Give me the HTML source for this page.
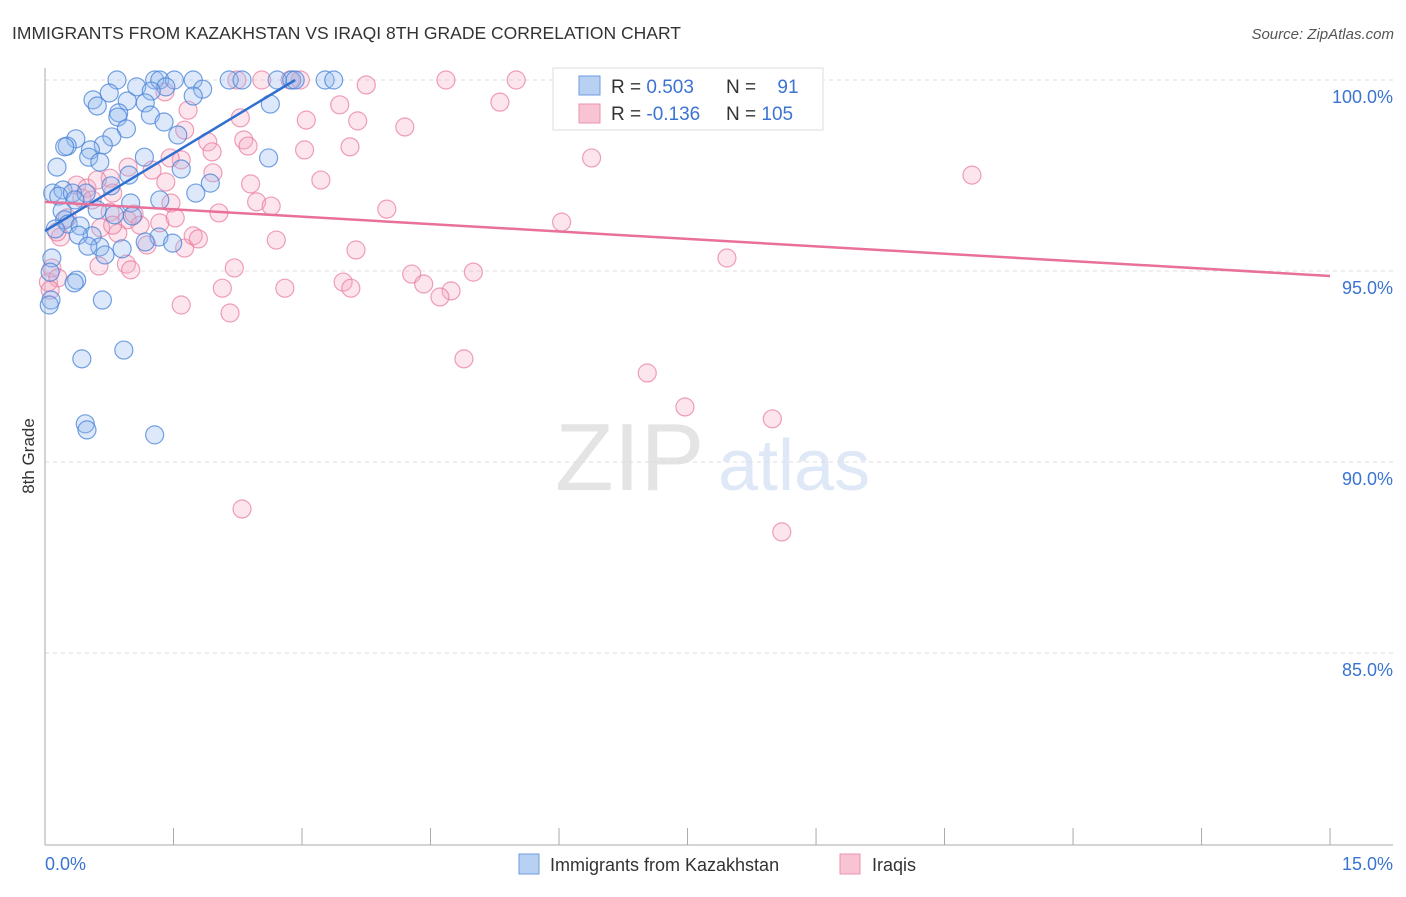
<!DOCTYPE html>
<html><head><meta charset="utf-8"><style>
body{margin:0;background:#fff;font-family:"Liberation Sans",sans-serif}
svg text{font-family:"Liberation Sans",sans-serif}
</style></head><body>
<svg width="1406" height="892" xmlns="http://www.w3.org/2000/svg">
<text x="12" y="39" font-size="17.5" fill="#333">IMMIGRANTS FROM KAZAKHSTAN VS IRAQI 8TH GRADE CORRELATION CHART</text>
<text x="1394" y="39" font-size="15" fill="#555" font-style="italic" text-anchor="end">Source: ZipAtlas.com</text>
<g>
<text x="555" y="490" font-size="96" fill="#e4e4e4" font-family="Liberation Serif,serif">ZIP</text>
<text x="718" y="490" font-size="72" fill="#dfe8f6">atlas</text>
</g>
<g id="grid"></g>
<g id="axes"></g>
<g id="pts"></g>
<g id="trends"></g>
<text transform="translate(34,456) rotate(-90)" font-size="17" fill="#333" text-anchor="middle">8th Grade</text>
<g>
<rect x="553" y="68" width="270" height="62" fill="#fff" stroke="#ddd"/>
<rect x="579" y="76" width="21" height="19" fill="#b8d0f2" stroke="#6f9be0"/>
<rect x="579" y="104" width="21" height="19" fill="#f8c4d4" stroke="#eb93ae"/>
<text x="611" y="93" font-size="19" fill="#333">R = <tspan fill="#3b74d0">0.503</tspan></text>
<text x="726" y="93" font-size="19" fill="#333">N = <tspan fill="#3b74d0" dx="16">91</tspan></text>
<text x="611" y="120" font-size="19" fill="#333">R = <tspan fill="#3b74d0">-0.136</tspan></text>
<text x="726" y="120" font-size="19" fill="#333">N = <tspan fill="#3b74d0">105</tspan></text>
</g>
<g>
<rect x="519" y="854" width="20" height="20" fill="#b8d0f2" stroke="#6f9be0"/>
<text x="550" y="871" font-size="18" fill="#333">Immigrants from Kazakhstan</text>
<rect x="840" y="854" width="20" height="20" fill="#f8c4d4" stroke="#eb93ae"/>
<text x="872" y="871" font-size="18" fill="#333">Iraqis</text>
</g>
</svg>
<script>
const yTicks=[100,95,90,85];
const xTickLabels=["0.0%","15.0%"];
const blueX=[0.84,1.28,1.34,1.51,1.73,2.15,2.30,2.71,2.88,2.92,3.27,3.37,1.07,1.41,1.84,0.75,1.24,1.73,0.56,0.61,0.96,1.17,2.63,0.86,1.23,0.85,1.39,0.95,1.55,0.78,0.36,0.26,0.23,0.68,0.53,0.51,0.64,1.16,0.14,2.61,1.59,0.98,0.77,1.93,1.76,0.09,0.21,0.16,0.32,0.48,1.34,1.00,0.35,0.20,0.61,0.81,1.02,0.23,0.27,0.12,0.41,0.55,0.39,1.33,1.17,1.49,0.64,0.90,0.50,0.70,0.08,0.06,0.07,0.37,0.34,0.67,0.43,0.92,0.47,0.49,1.28,0.05];
const blueY=[100,100,100,100,100,100,100,100,100,100,100,100,99.82,99.82,99.76,99.66,99.71,99.58,99.48,99.32,99.45,99.40,99.37,99.14,99.08,99.03,98.90,98.72,98.56,98.51,98.46,98.27,98.25,98.30,98.17,97.98,97.85,97.98,97.72,97.96,97.67,97.51,97.23,97.30,97.04,97.04,97.12,96.96,97.04,97.04,96.86,96.78,96.86,96.57,96.60,96.47,96.44,96.34,96.23,96.10,96.18,95.92,95.94,95.89,95.76,95.73,95.63,95.58,95.65,95.42,95.34,94.97,94.24,94.76,94.69,94.24,92.70,92.93,91.0,90.84,90.71,94.11];
const pinkX=[2.24,2.53,2.86,2.98,4.68,5.50,7.77,3.75,1.40,1.67,3.44,5.31,2.28,3.05,3.65,4.20,1.90,2.32,2.37,1.95,3.03,3.56,1.59,6.38,0.97,1.25,0.76,1.41,1.96,2.40,3.22,10.82,0.37,0.49,0.61,0.43,0.55,0.79,1.47,2.03,2.47,2.64,3.99,6.03,0.76,0.96,1.04,1.34,1.52,1.11,0.26,0.18,0.14,0.85,1.19,1.63,1.73,1.79,2.70,3.63,0.95,1.00,0.63,2.21,0.08,0.04,0.15,4.28,5.00,3.48,3.57,4.42,4.74,4.61,2.07,2.80,1.59,2.16,7.96,4.89,7.03,7.47,8.49,2.30,8.60,0.06,1.46,1.63,0.65,0.79];
const pinkY=[100,100,100,100,100,100,100,99.87,99.69,99.21,99.35,99.42,99.01,98.95,98.93,98.77,98.38,98.43,98.27,98.12,98.17,98.25,97.91,97.96,97.72,97.64,97.43,97.33,97.57,97.28,97.38,97.51,97.25,97.17,97.38,96.91,96.86,97.04,96.78,96.52,96.81,96.70,96.62,96.28,96.54,96.34,96.49,96.26,96.39,96.20,96.39,95.89,96.02,95.99,95.68,95.60,95.92,95.84,95.81,95.55,95.18,95.03,95.13,95.08,95.08,94.71,94.82,94.92,94.97,94.71,94.55,94.66,94.48,94.32,94.55,94.55,94.11,93.90,95.34,92.70,92.33,91.44,91.13,88.77,88.17,94.50,97.96,98.69,96.13,96.20];
const blueTrend=[0,96.05,2.92,100];
const pinkTrend=[0,96.81,15,94.87];
const NS="http://www.w3.org/2000/svg";
const sx=p=>45+p*85.67;
const sy=v=>80+(100-v)*38.2;
function mk(tag,attrs,parent){const e=document.createElementNS(NS,tag);for(const k in attrs)e.setAttribute(k,attrs[k]);parent.appendChild(e);return e;}
const grid=document.getElementById('grid'),axes=document.getElementById('axes'),pts=document.getElementById('pts'),tr=document.getElementById('trends');
yTicks.forEach(t=>{
 const l=mk('line',{x1:45,x2:1393,y1:sy(t),y2:sy(t),stroke:'#ddd','stroke-dasharray':'4,4'},grid);
 
 
 const tx=mk('text',{x:1393,y:sy(t)+23,'font-size':18,fill:'#3b74d0','text-anchor':'end'},grid);
 tx.textContent=t.toFixed(1)+'%';
 
 
});
const ya=mk('line',{x1:45,x2:45,y1:68,y2:845,stroke:'#aaa'},axes);


const xa=mk('line',{x1:45,x2:1393,y1:845,y2:845,stroke:'#aaa'},axes);


for(let i=0;i<=10;i++){const t=mk('line',{x1:sx(i*1.5),x2:sx(i*1.5),y1:828,y2:845,stroke:'#aaa'},axes);
 
 }
xTickLabels.forEach((s,i)=>{const t=mk('text',{x:i?1393:45,y:870,'font-size':18,fill:'#3b74d0','text-anchor':i?'end':'start'},axes);t.textContent=s;
 
 });
pinkX.forEach((p,i)=>{const c=mk('circle',{cx:sx(p),cy:sy(pinkY[i]),r:9,fill:'rgba(246,168,194,0.3)',stroke:'rgba(232,120,155,0.7)','stroke-width':1.2},pts);
 
 });
blueX.forEach((p,i)=>{const c=mk('circle',{cx:sx(p),cy:sy(blueY[i]),r:9,fill:'rgba(150,188,238,0.32)',stroke:'rgba(70,130,215,0.75)','stroke-width':1.2},pts);
 
 });
const bl=mk('line',{x1:sx(blueTrend[0]),y1:sy(blueTrend[1]),x2:sx(blueTrend[2]),y2:sy(blueTrend[3]),stroke:'#2f6fd0','stroke-width':2.5},tr);


const pl=mk('line',{x1:sx(pinkTrend[0]),y1:sy(pinkTrend[1]),x2:sx(pinkTrend[2]),y2:sy(pinkTrend[3]),stroke:'#e8709a','stroke-width':2.5},tr);


</script>
</body></html>
